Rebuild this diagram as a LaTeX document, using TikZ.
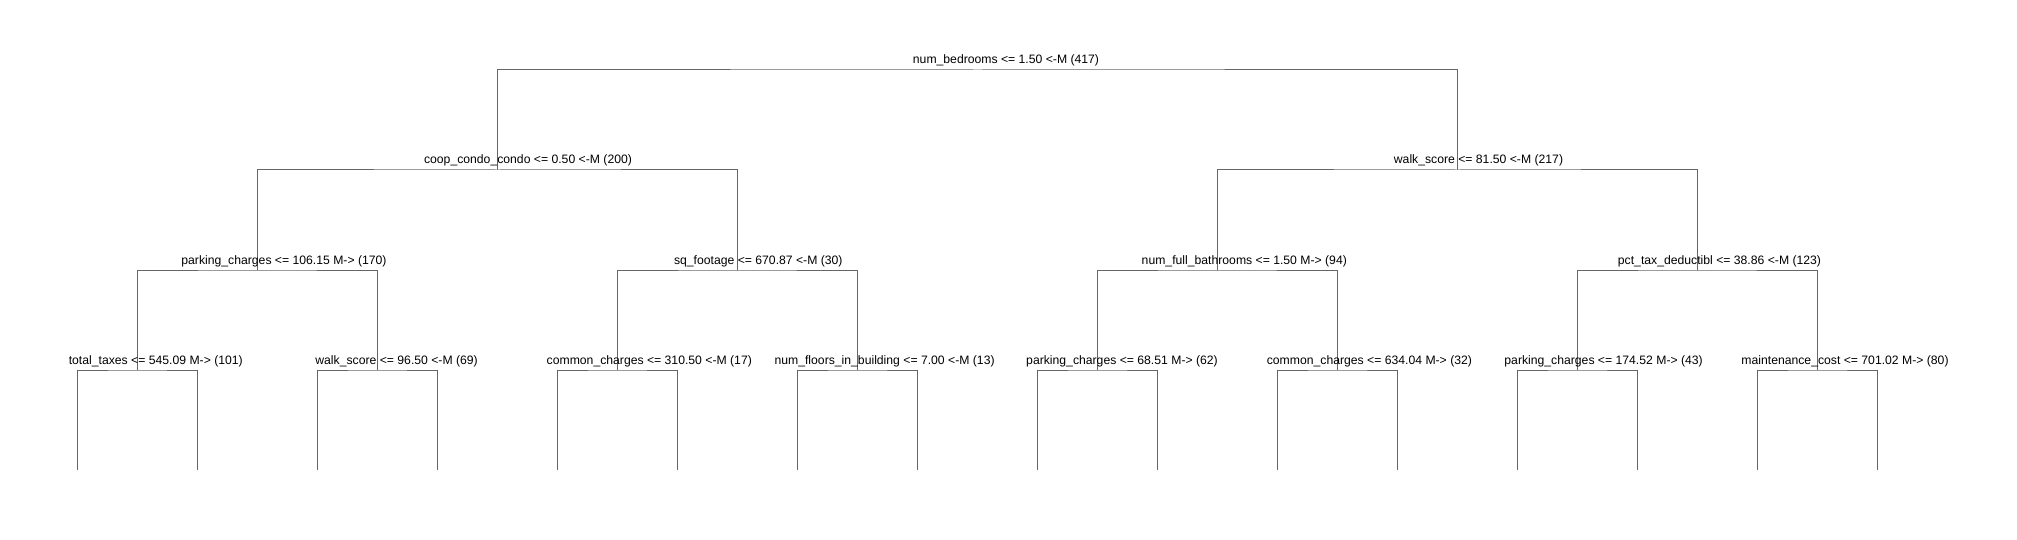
\documentclass[tikz,border=0pt]{standalone}
\usepackage{fontspec}
\setmainfont{Liberation Sans}
\tikzset{
	branch/.style={draw=black!60, line width=1pt},
	split/.style={anchor=base, inner sep=0pt, font=\fontsize{12.2}{14}\selectfont},
}
\begin{document}
\begin{tikzpicture}[x=1pt,y=-1pt]
	\useasboundingbox (0,0) rectangle (2017,540);
	% split points, level by level
	\coordinate (n1) at (977.6,70);
	\coordinate (n2) at (497.6,170);
	\coordinate (n3) at (1457.6,170);
	\foreach \x [count=\k from 4] in {257.6,737.6,1217.6,1697.6}
		\coordinate (n\k) at (\x,270);
	\foreach \x [count=\k from 8] in {137.6,377.6,617.6,857.6,1097.6,1337.6,1577.6,1817.6}
		\coordinate (n\k) at (\x,370);
	\foreach \k in {1,...,16}
		\coordinate (l\k) at ({77.6+120*(\k-1)},470);
	% branches
	\foreach \i in {1,...,7}{%
			\pgfmathtruncatemacro\lc{2*\i}
			\pgfmathtruncatemacro\rc{2*\i+1}
			\draw [branch] (n\lc) |- (n\i) -| (n\rc);
			}
	\foreach \i in {8,...,15}{%
			\pgfmathtruncatemacro\lc{2*\i-15}
			\pgfmathtruncatemacro\rc{2*\i-14}
			\draw [branch] (l\lc) |- (n\i) -| (l\rc);
			}
	% split labels
	\node [split] (s1) at ([xshift=28.4,yshift=6]n1) {num\_bedrooms <= 1.50 <-M (417)};
	\node [split] (s2) at ([xshift=30.4,yshift=6]n2) {coop\_condo\_condo <= 0.50 <-M (200)};
	\node [split] (s3) at ([xshift=20.9,yshift=6]n3) {walk\_score <= 81.50 <-M (217)};
	\node [split] (s4) at ([xshift=26.4,yshift=6]n4) {parking\_charges <= 106.15 M-> (170)};
	\node [split] (s5) at ([xshift=20.7,yshift=6]n5) {sq\_footage <= 670.87 <-M (30)};
	\node [split] (s6) at ([xshift=26.7,yshift=6]n6) {num\_full\_bathrooms <= 1.50 M-> (94)};
	\node [split] (s7) at ([xshift=21.9,yshift=6]n7) {pct\_tax\_deductibl <= 38.86 <-M (123)};
	\node [split] (s8) at ([xshift=18.2,yshift=6]n8) {total\_taxes <= 545.09 M-> (101)};
	\node [split] (s9) at ([xshift=19,yshift=6]n9) {walk\_score <= 96.50 <-M (69)};
	\node [split] (s10) at ([xshift=31.7,yshift=6]n10) {common\_charges <= 310.50 <-M (17)};
	\node [split] (s11) at ([xshift=27,yshift=6]n11) {num\_floors\_in\_building <= 7.00 <-M (13)};
	\node [split] (s12) at ([xshift=24.4,yshift=6]n12) {parking\_charges <= 68.51 M-> (62)};
	\node [split] (s13) at ([xshift=31.8,yshift=6]n13) {common\_charges <= 634.04 M-> (32)};
	\node [split] (s14) at ([xshift=26,yshift=6]n14) {parking\_charges <= 174.52 M-> (43)};
	\node [split] (s15) at ([xshift=27.4,yshift=6]n15) {maintenance\_cost <= 701.02 M-> (80)};
\end{tikzpicture}
\end{document}
